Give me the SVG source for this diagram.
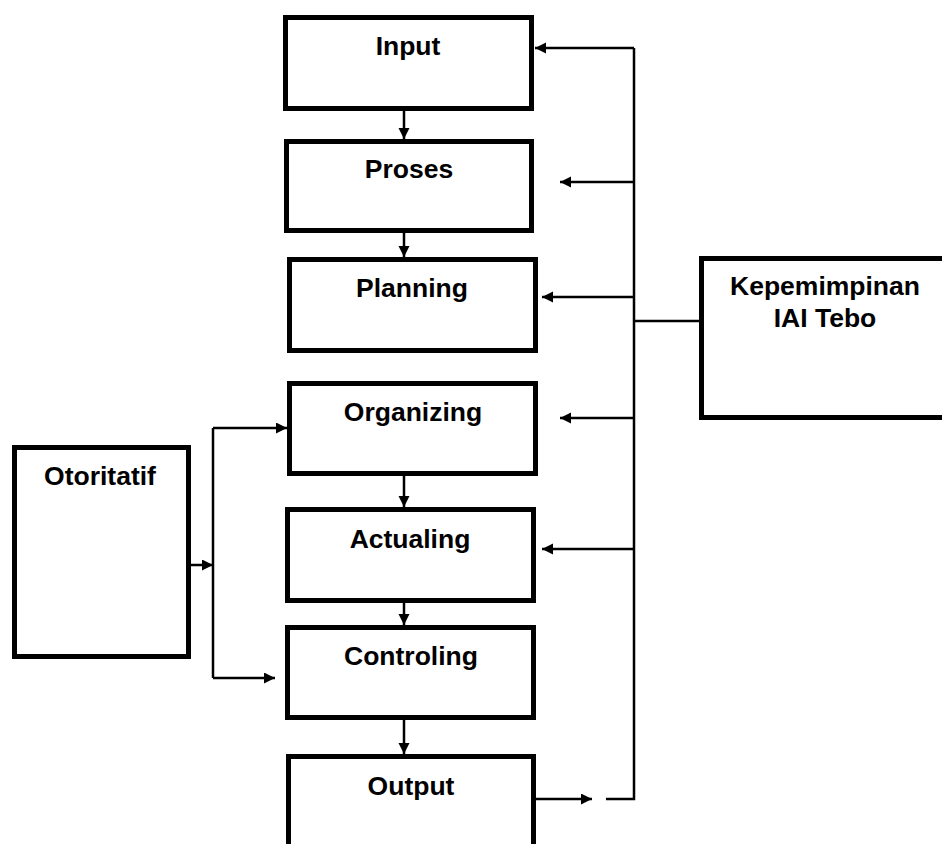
<svg xmlns="http://www.w3.org/2000/svg" width="942" height="844" viewBox="0 0 942 844">
<style>
.box{fill:#fff;stroke:#000;stroke-width:5}
.lbl{font-family:"Liberation Sans",Arial,sans-serif;font-weight:bold;font-size:26.5px;text-anchor:middle;fill:#000}
.ln{fill:none;stroke:#000;stroke-width:2.5}
</style>
<defs>
<marker id="ah" markerUnits="userSpaceOnUse" markerWidth="12" markerHeight="12" refX="11" refY="5.5" orient="auto">
<path d="M0,0 L11,5.5 L0,11 z" fill="#000"/>
</marker>
</defs>
<rect width="942" height="844" fill="#fff"/>
<g id="connectors">
<path class="ln" d="M404,111 V139" marker-end="url(#ah)"/>
<path class="ln" d="M404,233 V257" marker-end="url(#ah)"/>
<path class="ln" d="M404,476 V507" marker-end="url(#ah)"/>
<path class="ln" d="M404,603 V625" marker-end="url(#ah)"/>
<path class="ln" d="M404,720 V754" marker-end="url(#ah)"/>
<path class="ln" d="M634,48 V799 H606"/>
<path class="ln" d="M634,48 H535" marker-end="url(#ah)"/>
<path class="ln" d="M634,182 H560" marker-end="url(#ah)"/>
<path class="ln" d="M634,297 H542" marker-end="url(#ah)"/>
<path class="ln" d="M634,418 H560" marker-end="url(#ah)"/>
<path class="ln" d="M634,549 H542" marker-end="url(#ah)"/>
<path class="ln" d="M634,321 H699"/>
<path class="ln" d="M536,799 H592" marker-end="url(#ah)"/>
<path class="ln" d="M191,565 H213" marker-end="url(#ah)"/>
<path class="ln" d="M213,428 V678"/>
<path class="ln" d="M213,428 H287" marker-end="url(#ah)"/>
<path class="ln" d="M213,678 H275" marker-end="url(#ah)"/>
</g>
<g id="input"><rect class="box" x="285.5" y="17.5" width="246" height="91"/><text class="lbl" x="408" y="55">Input</text></g>
<g id="proses"><rect class="box" x="286.5" y="141.5" width="245" height="89"/><text class="lbl" x="409" y="178">Proses</text></g>
<g id="planning"><rect class="box" x="289.5" y="259.5" width="246" height="91"/><text class="lbl" x="412" y="297">Planning</text></g>
<g id="organizing"><rect class="box" x="289.5" y="383.5" width="246" height="90"/><text class="lbl" x="413" y="421">Organizing</text></g>
<g id="actualing"><rect class="box" x="287.5" y="509.5" width="246" height="91"/><text class="lbl" x="410" y="548">Actualing</text></g>
<g id="controling"><rect class="box" x="287.5" y="627.5" width="246" height="90"/><text class="lbl" x="411" y="665">Controling</text></g>
<g id="output"><rect class="box" x="288.5" y="756.5" width="245" height="100"/><text class="lbl" x="411" y="795">Output</text></g>
<g id="otoritatif"><rect class="box" x="14.5" y="447.5" width="174" height="209"/><text class="lbl" x="100" y="485">Otoritatif</text></g>
<g id="kepemimpinan"><rect class="box" x="701.5" y="258.5" width="260" height="159"/><text class="lbl" x="825" y="295">Kepemimpinan</text><text class="lbl" x="825" y="327">IAI Tebo</text></g>
</svg>
